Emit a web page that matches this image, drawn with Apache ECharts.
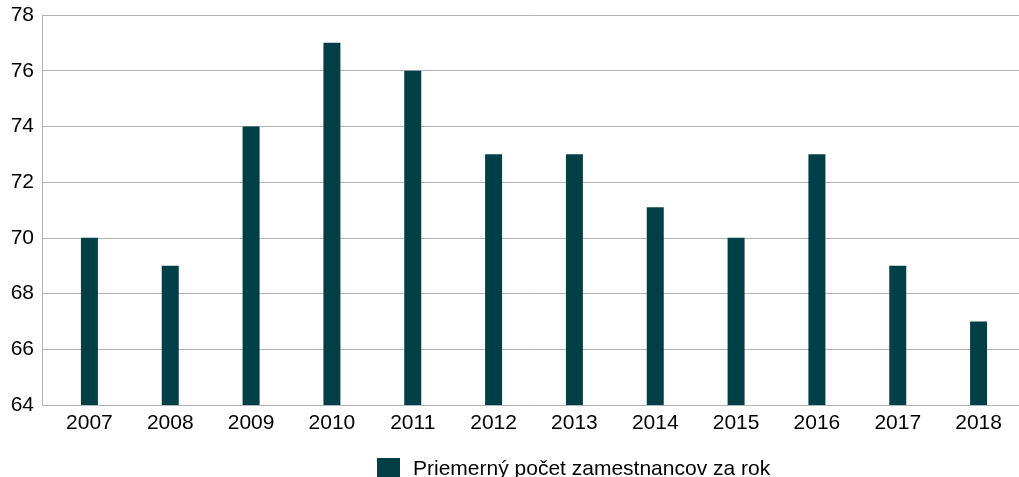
<!DOCTYPE html>
<html>
<head>
<meta charset="utf-8">
<script src="https://cdn.jsdelivr.net/npm/echarts@6/dist/echarts.min.js"></script>
<style>
  html, body { margin: 0; padding: 0; background: #fff; }
  #chart { width: 1019px; height: 477px; }
</style>
</head>
<body>
<div id="chart"></div>
<script>
// data
const years = ['2007', '2008', '2009', '2010', '2011', '2012', '2013', '2014', '2015', '2016', '2017', '2018'];
const employees = [70, 69, 74, 77, 76, 73, 73, 71.1, 70, 73, 69, 67];
const seriesName = 'Priemerný počet zamestnancov za rok';
const yMin = 64;
const yMax = 78;
const yStep = 2;

const font = 'Liberation Sans, Arial, sans-serif';
const barColor = '#013f47';
const gridColor = '#b3b3b3';

const chart = echarts.init(document.getElementById('chart'));

const option = {
  backgroundColor: '#fff',
  animation: false,
  textStyle: { fontFamily: font },
  grid: [
    // grid 0 only carries the y axis and gridlines
    { left: 42, right: 0, top: 15, height: 390 },
    // grid 1 carries the bars (categories start a bit right of the axis)
    { left: 49, width: 978, top: 15, height: 390 },
  ],
  legend: {
    left: 377,
    top: 458,
    padding: 0,
    icon: 'rect',
    itemWidth: 23,
    itemHeight: 23,
    textStyle: { fontSize: 21, color: '#000', fontFamily: font, padding: [0, 0, 0, 8] },
    data: [seriesName],
  },
  xAxis: [
    {
      gridIndex: 0,
      type: 'value',
      min: 0,
      max: 1,
      show: true,
      axisLine: { show: false },
      axisTick: { show: false },
      axisLabel: { show: false },
      splitLine: { show: false },
    },
    {
      gridIndex: 1,
      type: 'category',
      data: years,
      axisLine: { show: false },
      axisTick: { show: false },
      axisLabel: { fontSize: 21, color: '#000', margin: 8, fontFamily: font },
    },
  ],
  yAxis: [
    {
      gridIndex: 0,
      type: 'value',
      min: yMin,
      max: yMax,
      interval: yStep,
      axisLine: { show: true, lineStyle: { color: gridColor, width: 1 } },
      axisTick: { show: false },
      axisLabel: { fontSize: 21, color: '#000', margin: 8, fontFamily: font },
      splitLine: { show: true, lineStyle: { color: gridColor, width: 1 } },
    },
    {
      gridIndex: 1,
      type: 'value',
      min: yMin,
      max: yMax,
      interval: yStep,
      show: false,
      splitLine: { show: false },
    },
  ],
  series: [
    {
      name: seriesName,
      type: 'bar',
      xAxisIndex: 1,
      yAxisIndex: 1,
      data: employees,
      barWidth: 17,
      itemStyle: { color: barColor },
    },
  ],
};

chart.setOption(option);
</script>
</body>
</html>
